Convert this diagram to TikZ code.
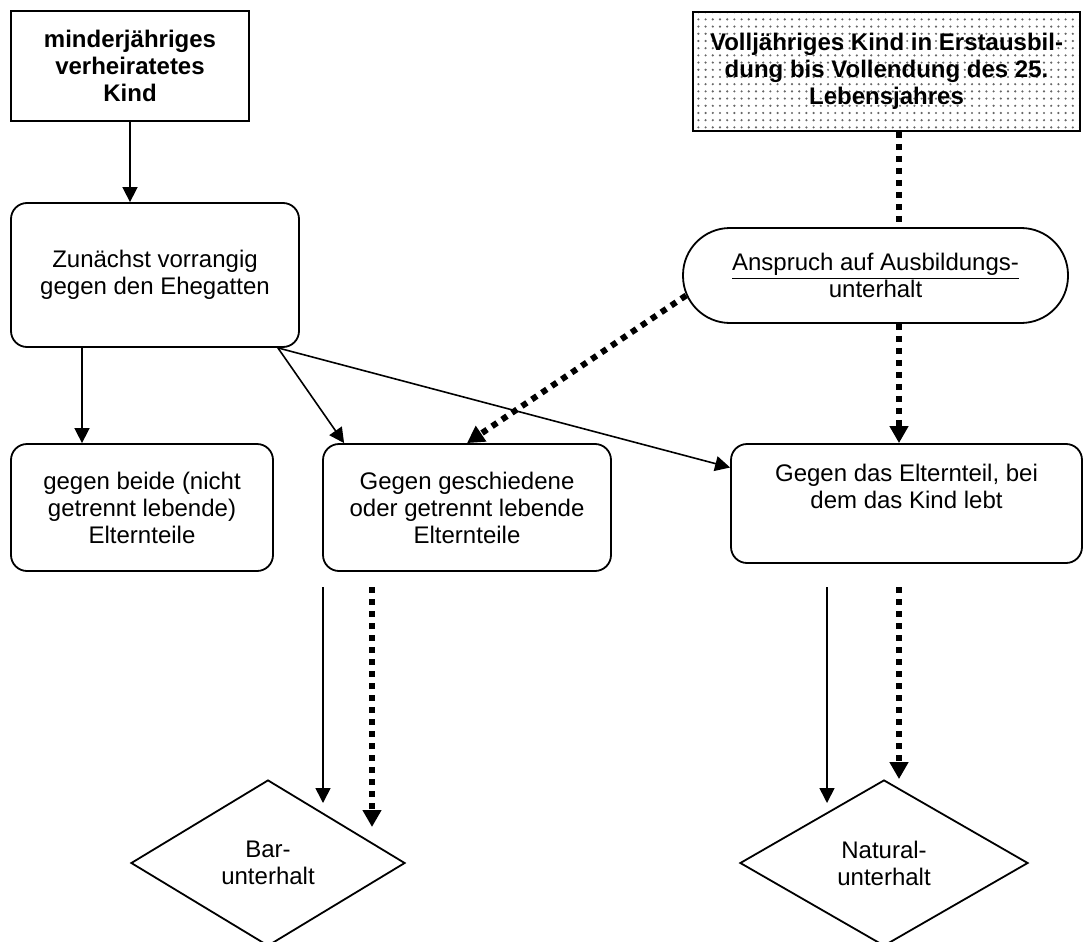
\documentclass[tikz,border=0pt]{standalone}
\usepackage{fontspec}
\setmainfont{Liberation Sans}
\usetikzlibrary{arrows.meta,patterns.meta,shapes.geometric}

\newcommand{\grundschrift}{\fontsize{12pt}{13.5pt}\selectfont}

\tikzset{
  kasten/.style={draw, line width=0.9pt, align=center, inner sep=0pt, font=\grundschrift},
  fett/.style={kasten, font=\grundschrift\bfseries},
  rund/.style={kasten, rounded corners=8pt},
  raute/.style={draw, line width=0.9pt, shape=diamond, align=center, inner sep=0pt, font=\grundschrift},
  pfeil/.style={line width=0.8pt, -{Triangle[length=7.5pt,width=7.5pt]}},
  punkt/.style={line width=3pt, dash pattern=on 3pt off 3pt},
  punktpfeil/.style={punkt, -{Triangle[length=8.5pt,width=9pt]}},
}

\begin{document}
\begin{tikzpicture}[x=0.5pt, y=-0.5pt]
		
		\useasboundingbox (0,0) rectangle (1085,941);
		\begin{scope}
		\clip (0,0) rectangle (1085,941);
		
		% Ausgangsfälle oben
		\node[fett, minimum width=119pt, minimum height=55pt] (kind) at (130,66) {minderjähriges\\verheiratetes\\Kind};
		\node[fett, minimum width=193.5pt, minimum height=59.5pt,
		      pattern={Dots[radius=0.6pt,distance=3.6pt]}, pattern color=black!60] (voll) at (886.5,71.5)
		      {Volljähriges Kind in Erstausbil-\\dung bis Vollendung des 25.\\Lebensjahres};
		
		% Zwischenstufe
		\node[kasten, rounded corners=23.5pt, minimum width=192.5pt, minimum height=47.5pt] (ansp) at (875.5,275.5)
		      {\underline{Anspruch auf Ausbildungs-}\\unterhalt};
		\node[rund, minimum width=144pt, minimum height=72pt] (zun) at (155,275) {Zunächst vorrangig\\gegen den Ehegatten};
		
		% Anspruchsgegner
		\node[rund, minimum width=131pt, minimum height=63.5pt] (beide) at (142,507.5) {gegen beide (nicht\\getrennt lebende)\\Elternteile};
		\node[rund, minimum width=144pt, minimum height=63.5pt] (gesch) at (467,507.5) {Gegen geschiedene\\oder getrennt lebende\\Elternteile};
		\node[rund, minimum width=175.5pt, minimum height=59.5pt] (eltern) at (906.5,503.5) {Gegen das Elternteil, bei\\dem das Kind lebt\\\strut};
		
		% Unterhaltsarten
		\node[raute, minimum width=137pt, minimum height=83pt] (bar) at (268,863) {Bar-\\unterhalt};
		\node[raute, minimum width=144pt, minimum height=83pt] (nat) at (884,863) {Natural-\\unterhalt};
		
		% Pfeile minderjähriges Kind
		\draw[pfeil] (kind.south) -- (kind.south |- zun.north);
		\coordinate (zl) at ([xshift=-36.5pt]zun.south);
		\coordinate (ze) at ([xshift=-11pt]zun.south east);
		\draw[pfeil] (zl) -- (zl |- beide.north);
		\draw[pfeil] (ze) -- ([xshift=11pt]gesch.north west);
		\draw[pfeil] (ze) -- ([yshift=18pt]eltern.west);
		
		% Pfeile volljähriges Kind
		\coordinate (vl) at ([xshift=6.25pt]voll.south);
		\draw[punkt] (vl) -- (vl |- ansp.north);
		\draw[punktpfeil] (vl |- ansp.south) -- (vl |- eltern.north);
		\draw[punktpfeil] ([xshift=2pt,yshift=-10pt]ansp.west) -- (gesch.north);
		
		% Pfeile zu den Unterhaltsarten
		\coordinate (bs) at (323,587);
		\coordinate (be) at (323,803);
		\coordinate (bps) at (372,587);
		\coordinate (bpe) at (372,827);
		\coordinate (ns) at (827,587);
		\coordinate (ne) at (827,803);
		\draw[pfeil] (bs) -- (be);
		\draw[punktpfeil] (bps) -- (bpe);
		\draw[pfeil] (ns) -- (ne);
		\draw[punktpfeil] (vl |- ns) -- (vl |- nat.north);
		
		\end{scope}
		
\end{tikzpicture}
\end{document}
